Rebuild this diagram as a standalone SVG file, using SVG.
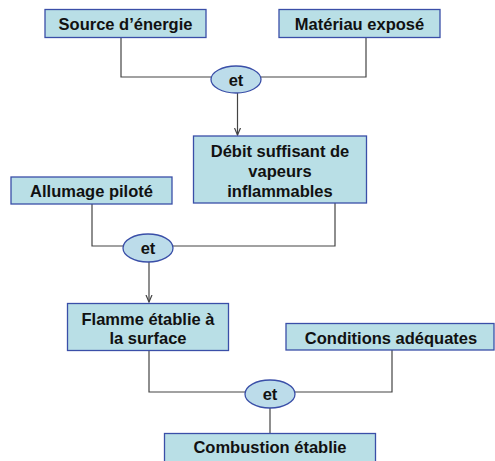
<svg xmlns="http://www.w3.org/2000/svg" width="495" height="461" viewBox="0 0 495 461">
<defs>
<style>
.box{fill:#b9dfe6;stroke:#3a4fa8;stroke-width:1.3}
.oval{fill:#bcdcea;stroke:#3a4fa8;stroke-width:1.3}
.t{font-family:"Liberation Sans",Arial,sans-serif;font-weight:bold;font-size:16.5px;fill:#111;text-anchor:middle}
.c{fill:none;stroke:#444;stroke-width:1.2}
</style>
<marker id="ah" markerWidth="8" markerHeight="8" refX="7" refY="4" orient="auto" markerUnits="userSpaceOnUse">
<path d="M0,1 L7,4 L0,7" fill="none" stroke="#444" stroke-width="1.2"/>
</marker>
</defs>
<rect width="495" height="461" fill="#fff"/>
<g id="connectors">
<polyline class="c" points="121,37 121,77 211,77"/>
<polyline class="c" points="261,77 366,77 366,37"/>
<line class="c" x1="237.5" y1="93" x2="237.5" y2="135" marker-end="url(#ah)"/>
<polyline class="c" points="92,204 92,246 123,246"/>
<polyline class="c" points="172,246 335,246 335,203"/>
<line class="c" x1="149" y1="262" x2="149" y2="302" marker-end="url(#ah)"/>
<polyline class="c" points="149,351 149,392 245,392"/>
<polyline class="c" points="295,392 392,392 392,350"/>
<line class="c" x1="270" y1="408" x2="270" y2="433"/>
</g>
<g id="source"><rect class="box" x="45" y="9.5" width="161" height="28"/><text class="t" x="125.5" y="30">Source d’énergie</text></g>
<g id="materiau"><rect class="box" x="279" y="9.5" width="161" height="28"/><text class="t" x="359.5" y="30">Matériau exposé</text></g>
<g id="et1"><ellipse class="oval" cx="236" cy="79.5" rx="25" ry="13.5"/><text class="t" x="236" y="85.5">et</text></g>
<g id="debit"><rect class="box" x="193.5" y="136" width="173" height="67"/><text class="t" x="280" y="157">Débit suffisant de</text><text class="t" x="280" y="177">vapeurs</text><text class="t" x="280" y="197">inflammables</text></g>
<g id="allumage"><rect class="box" x="11" y="177" width="161" height="27"/><text class="t" x="91.5" y="197">Allumage piloté</text></g>
<g id="et2"><ellipse class="oval" cx="148" cy="248" rx="25" ry="14"/><text class="t" x="148" y="254">et</text></g>
<g id="flamme"><rect class="box" x="67.5" y="303.5" width="161" height="47"/><text class="t" x="148" y="325">Flamme établie à</text><text class="t" x="148" y="344">la surface</text></g>
<g id="conditions"><rect class="box" x="286" y="323.5" width="208" height="26.5"/><text class="t" x="391" y="344">Conditions adéquates</text></g>
<g id="et3"><ellipse class="oval" cx="270" cy="394" rx="25" ry="14"/><text class="t" x="270" y="400">et</text></g>
<g id="combustion"><rect class="box" x="164.5" y="433.5" width="211" height="32"/><text class="t" x="270" y="453">Combustion établie</text></g>
</svg>
